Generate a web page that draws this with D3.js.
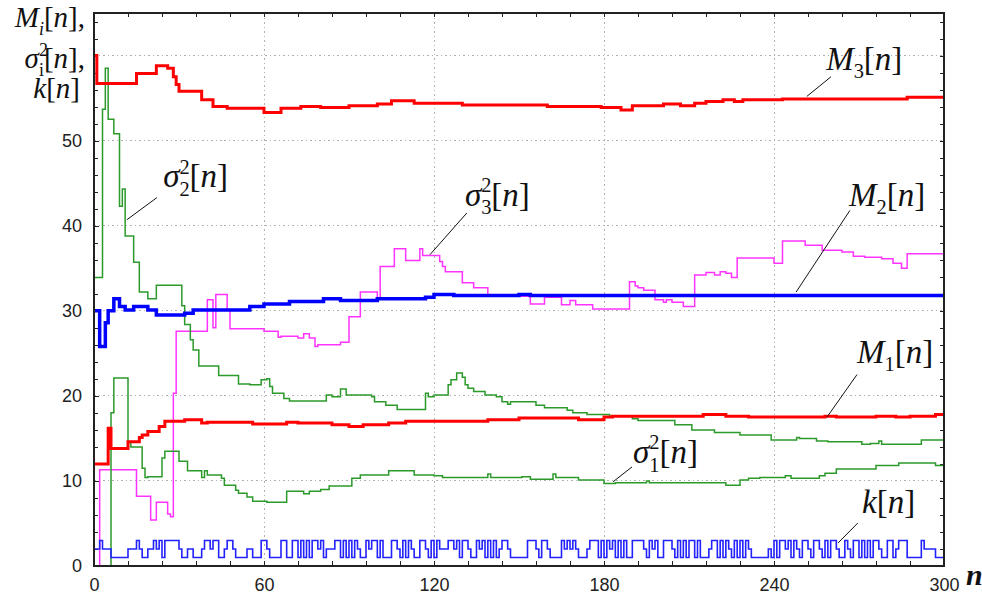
<!DOCTYPE html>
<html>
<head>
  <meta charset="utf-8">
  <style>
    body { margin: 0; background: #fff; }
    .tick text { font-family: "Liberation Sans", Arial, sans-serif; font-size: 18px; fill: #222; }
    .axis path, .axis line { stroke: #222; shape-rendering: crispEdges; }
    .grid line { stroke: #b0b0b0; stroke-dasharray: 1.5, 3; shape-rendering: crispEdges; }
    .frame { fill: none; stroke: #222; stroke-width: 1.5px; shape-rendering: crispEdges; }
    path.line { fill: none; }
    .lbl { font-family: "Liberation Serif", "Times New Roman", serif; font-style: italic; fill: #111; }
    .leader { stroke: #111; stroke-width: 1px; }
  </style>
  <script src="https://cdn.jsdelivr.net/npm/d3@7"></script>
</head>
<body>
<div id="graph"></div>
<script>
  // tick labels
  var xTicks = [0, 60, 120, 180, 240, 300];
  var yTicks = [0, 10, 20, 30, 40, 50];
  var yGrid = [10, 20, 30, 40, 50, 60];
  var xGrid = [60, 120, 180, 240];

  // step series: [n, value] where value holds until next n
  var m3 = [[0, 60.0], [1, 56.7], [15, 57.9], [22, 58.8], [26, 58.5], [28, 57.5], [29, 56.6], [30, 55.8],
    [38, 54.8], [42, 54.0], [47, 53.8], [60, 53.3], [66, 53.8], [73, 54.0], [80, 53.9], [90, 54.1],
    [100, 54.3], [105, 54.7], [113, 54.4], [130, 54.2], [160, 54.0], [179, 53.9], [186, 53.6], [190, 54.1],
    [201, 54.3], [207, 54.1], [212, 54.4], [216, 54.6], [222, 54.8], [226, 54.6], [229, 54.8], [243, 54.9],
    [287, 55.1], [300, 55.1]];

  var m2 = [[0, 30.0], [2, 25.8], [4, 28.6], [5, 30.0], [7, 31.4], [9, 30.5], [11, 30.1], [14, 30.5],
    [19, 30.1], [22, 29.5], [32, 29.7], [35, 30.1], [55, 30.5], [60, 30.8], [69, 31.1], [81, 31.4],
    [87, 31.2], [100, 31.4], [117, 31.6], [120, 31.9], [127, 31.8], [150, 31.9], [154, 31.8], [300, 31.8]];

  var m1 = [[0, 12.0], [5, 16.2], [6, 13.8], [12, 14.6], [16, 15.1], [17, 15.4], [19, 15.8], [23, 16.4],
    [25, 17.0], [32, 17.2], [38, 16.8], [40, 16.9], [56, 16.7], [68, 16.9], [72, 16.8], [84, 16.6],
    [90, 16.4], [95, 16.6], [104, 16.8], [110, 17.0], [139, 17.2], [150, 17.4], [171, 17.2], [180, 17.5],
    [183, 17.6], [215, 17.8], [223, 17.6], [231, 17.5], [258, 17.6], [262, 17.5], [276, 17.6], [283, 17.5],
    [288, 17.6], [297, 17.8], [300, 17.8]];

  var s2 = [[0, 33.9], [3, 53.7], [4, 58.5], [5, 52.5], [7, 50.8], [9, 42.3], [10, 44.3], [11, 38.8],
    [14, 35.7], [16, 32.2], [19, 31.4], [22, 33.0], [31, 30.6], [32, 28.4], [34, 26.6], [35, 25.4],
    [37, 23.5], [44, 22.4], [51, 21.4], [55, 21.3], [59, 21.9], [61, 22.0], [62, 21.1], [63, 20.3],
    [67, 19.7], [69, 19.4], [82, 20.1], [84, 19.9], [87, 20.8], [89, 20.1], [98, 19.9], [99, 19.3],
    [103, 18.9], [107, 18.4], [117, 20.3], [118, 19.9], [120, 20.1], [125, 21.3], [126, 21.9], [128, 22.7],
    [130, 22.2], [131, 21.3], [132, 20.9], [134, 20.5], [138, 20.1], [142, 19.9], [144, 19.3], [146, 19.0],
    [147, 19.3], [156, 18.9], [159, 18.6], [167, 18.3], [169, 18.0], [174, 17.8], [182, 17.6], [190, 17.3],
    [192, 17.1], [205, 16.6], [211, 16.0], [219, 15.7], [228, 15.4], [239, 14.8], [248, 15.1], [249, 15.0],
    [255, 14.7], [259, 14.6], [271, 14.3], [274, 14.4], [277, 14.7], [278, 14.3], [292, 14.8], [300, 14.8]];

  var s1 = [[5, 0], [6, 18.0], [7, 22.1], [12, 14.6], [13, 14.0], [17, 11.5], [18, 10.4], [19, 10.5],
    [24, 12.7], [25, 13.5], [30, 12.3], [33, 11.2], [38, 10.4], [39, 11.2], [40, 10.7], [45, 10.3],
    [46, 9.5], [50, 8.9], [51, 8.55], [54, 8.1], [56, 7.6], [61, 7.5], [68, 8.8], [74, 8.5], [76, 8.8],
    [80, 9.0], [83, 9.4], [91, 10.3], [94, 10.7], [104, 11.2], [113, 10.7], [120, 10.6], [123, 10.4],
    [139, 10.8], [140, 10.4], [151, 10.5], [154, 10.2], [162, 10.8], [163, 10.4], [171, 10.1], [180, 9.7],
    [184, 9.8], [195, 10.0], [196, 9.8], [223, 9.5], [228, 10.1], [231, 10.3], [235, 10.4], [244, 10.6],
    [246, 10.3], [256, 10.6], [258, 10.9], [262, 11.4], [276, 11.8], [284, 12.1], [297, 11.8], [300, 11.8]];

  var s3 = [[1, 0], [2, 11.3], [15, 8.2], [20, 5.4], [22, 7.5], [26, 6.1], [27, 5.8], [28, 20.3], [29, 27.6],
    [40, 31.3], [42, 28.0], [43, 31.9], [47, 30.1], [48, 27.9], [60, 27.6], [65, 26.9], [66, 27.0],
    [72, 26.8], [74, 27.3], [76, 26.8], [78, 25.8], [79, 26.0], [87, 26.3], [90, 29.3], [94, 32.2],
    [100, 31.5], [101, 35.2], [106, 37.3], [110, 35.9], [115, 37.3], [116, 36.5], [122, 35.8], [123, 35.2],
    [124, 34.6], [130, 33.3], [134, 32.7], [139, 31.8], [142, 31.7], [154, 30.8], [159, 31.6], [165, 30.7],
    [168, 31.2], [170, 30.7], [176, 30.2], [189, 33.4], [191, 32.9], [192, 32.7], [194, 32.4], [198, 31.3],
    [201, 31.0], [202, 31.3], [204, 31.0], [208, 30.5], [212, 34.2], [216, 34.5], [219, 34.2], [221, 34.6],
    [223, 34.4], [225, 33.9], [227, 36.2], [240, 35.6], [243, 38.2], [251, 37.7], [257, 37.1], [264, 36.9],
    [268, 36.4], [272, 36.3], [278, 36.1], [282, 35.6], [285, 35.0], [287, 36.7], [300, 36.7]];

  // k[n] for n = 0..299, one digit per step
  var kSeq = "2232221111" + "1122232112" + "2323133333" + "2112211123" + "3233112332" +
    "1111221113" + "3211113311" + "3313131332" + "3122233131" + "3132113233" +
    "1311133213" + "1321133213" + "1322233231" + "3321132313" + "1312332111" +
    "1113332133" + "2111132323" + "2111233313" + "1323131311" + "3333213231" +
    "1333213131" + "3313111233" + "1313213131" + "3211111121" + "3133231321" +
    "3321332131" + "3321132133" + "1313133211" + "3312333111" + "1132222111";
  var kData = kSeq.split("").map(function(c, i) { return [i, +c]; });
  kData.push([300, kData[kData.length - 1][1]]);

  var margin = { top: 13, right: 38, bottom: 29, left: 94 };
  var width = 982 - margin.left - margin.right;
  var height = 595 - margin.top - margin.bottom;

  var svg = d3.select("#graph").append("svg")
    .attr("width", 982)
    .attr("height", 595)
    .append("g")
    .attr("transform", "translate(" + margin.left + "," + margin.top + ")");

  var x = d3.scaleLinear().domain([0, 300]).range([0, width]);
  var y = d3.scaleLinear().domain([0, 65]).range([height, 0]);

  svg.append("clipPath").attr("id", "clip")
    .append("rect").attr("width", width).attr("height", height);

  // dotted grid
  var grid = svg.append("g").attr("class", "grid");
  grid.selectAll(".gy").data(yGrid).enter().append("line")
    .attr("x1", 0).attr("x2", width)
    .attr("y1", function(d) { return y(d); }).attr("y2", function(d) { return y(d); });
  grid.selectAll(".gx").data(xGrid).enter().append("line")
    .attr("y1", 0).attr("y2", height)
    .attr("x1", function(d) { return x(d); }).attr("x2", function(d) { return x(d); });

  // axes, ticks pointing inward
  var minorY = d3.range(0, 65, 2);
  var minorX = d3.range(0, 301, 12);

  svg.append("g").attr("class", "axis")
    .call(d3.axisLeft(y).tickValues(minorY).tickSize(-4).tickFormat(""));
  svg.append("g").attr("class", "axis")
    .call(d3.axisLeft(y).tickValues(yTicks).tickSize(-5).tickPadding(12));
  svg.append("g").attr("class", "axis")
    .attr("transform", "translate(" + width + ",0)")
    .call(d3.axisRight(y).tickValues(minorY).tickSize(-4).tickFormat(""));
  svg.append("g").attr("class", "axis")
    .call(d3.axisTop(x).tickValues(minorX).tickSize(-4).tickFormat(""));
  svg.append("g").attr("class", "axis")
    .attr("transform", "translate(0," + height + ")")
    .call(d3.axisBottom(x).tickValues(minorX).tickSize(-5).tickFormat(""));
  svg.append("g").attr("class", "axis")
    .attr("transform", "translate(0," + height + ")")
    .call(d3.axisBottom(x).tickValues(xTicks).tickSize(-5).tickPadding(12));
  svg.selectAll(".axis .domain").remove();

  var line = d3.line()
    .curve(d3.curveStepAfter)
    .x(function(d) { return x(d[0]); })
    .y(function(d) { return y(d[1]); });

  var series = [
    { data: s3, color: "#ff33ff", w: 1.5 },
    { data: s2, color: "#2b9a2b", w: 1.5 },
    { data: s1, color: "#2b9a2b", w: 1.5 },
    { data: m2, color: "#0000ff", w: 3.5 },
    { data: m3, color: "#ff0000", w: 3 },
    { data: m1, color: "#ff0000", w: 3 },
    { data: kData, color: "#2222ff", w: 1.6 }
  ];

  series.forEach(function(s) {
    svg.append("path")
      .datum(s.data)
      .attr("class", "line")
      .attr("clip-path", "url(#clip)")
      .style("stroke", s.color)
      .style("stroke-width", s.w + "px")
      .attr("d", line);
  });

  svg.append("rect").attr("class", "frame")
    .attr("width", width).attr("height", height);

  // formula labels
  var fs = 30;
  function mathText(tx, ty, base, sub, sup, tail, anchor, size) {
    var f = size || fs;
    var t = svg.append("text").attr("class", "lbl")
      .attr("x", tx).attr("y", ty)
      .style("font-size", f + "px")
      .attr("text-anchor", anchor || "start");
    t.append("tspan").text(base);
    var back = 0;
    if (sup) {
      t.append("tspan").attr("dy", -0.42 * f).style("font-size", (0.62 * f) + "px")
        .style("font-style", "normal").text(sup);
      back = 0.42 * f;
      if (sub) {
        t.append("tspan").attr("dx", -0.31 * f).attr("dy", 0.68 * f).style("font-size", (0.62 * f) + "px")
          .style("font-style", "normal").text(sub);
        back = -0.26 * f;
      }
    } else if (sub) {
      t.append("tspan").attr("dy", 0.26 * f).style("font-size", (0.62 * f) + "px")
        .style("font-style", sub === "i" ? "italic" : "normal").text(sub);
      back = -0.26 * f;
    }
    t.append("tspan").attr("dy", back).style("font-style", "normal").text("[");
    t.append("tspan").text("n");
    t.append("tspan").style("font-style", "normal").text("]" + (tail || ""));
  }

  // annotations: leader from a point on the curve to the label (data coords)
  var notes = [
    { base: "M", sub: "3", sup: null, from: [251.6, 55.2], to: [260.1, 57.5], at: [258.4, 58.35] },
    { base: "M", sub: "2", sup: null, from: [247.8, 32.2], to: [266.8, 41.8], at: [266.5, 42.35] },
    { base: "M", sub: "1", sup: null, from: [258.7, 17.5], to: [269.3, 22.5], at: [269.3, 23.9] },
    { base: "\u03c3", sub: "2", sup: "2", from: [11.6, 40.7], to: [22.2, 43.3], at: [24.4, 44.5] },
    { base: "\u03c3", sub: "3", sup: "2", from: [118.6, 36.6], to: [131.6, 41.5], at: [130.9, 42.35] },
    { base: "\u03c3", sub: "1", sup: "2", from: [183.2, 9.9], to: [189.9, 11.65], at: [190.2, 12.1] },
    { base: "k", sub: null, sup: null, from: [262.6, 2.7], to: [269.6, 5.06], at: [271.1, 6.24] }
  ];

  notes.forEach(function(a) {
    svg.append("line").attr("class", "leader")
      .attr("x1", x(a.from[0])).attr("y1", y(a.from[1]))
      .attr("x2", x(a.to[0])).attr("y2", y(a.to[1]));
    mathText(x(a.at[0]), y(a.at[1]), a.base, a.sub, a.sup, "", "start", 33);
  });

  // axis titles
  mathText(-9, 14, "M", "i", null, ",", "end", 29);
  mathText(-9, 55, "\u03c3", "i", "2", ",", "end", 29);
  mathText(-14, 85, "k", null, null, "", "end", 29);

  svg.append("text").attr("class", "lbl")
    .attr("x", width + 22).attr("y", height + 19)
    .style("font-size", "30px").style("font-weight", "bold")
    .text("n");
</script>
</body>
</html>
